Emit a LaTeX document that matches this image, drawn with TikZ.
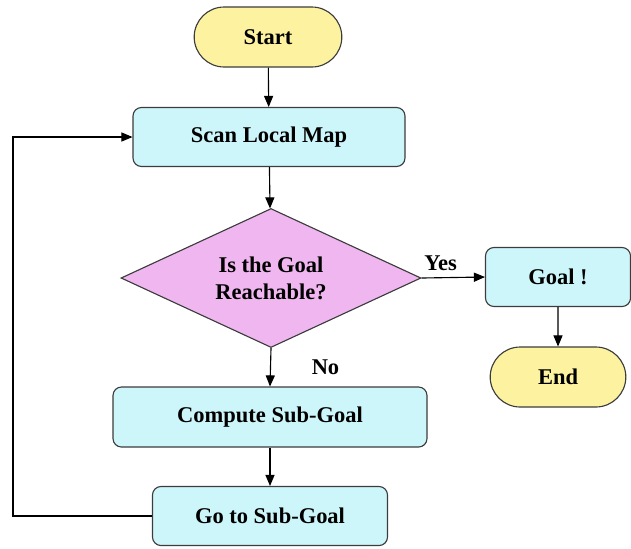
\documentclass[tikz,border=0pt]{standalone}
\usepackage{fontspec}
\setmainfont{Liberation Serif}
\usepackage{xcolor}
\usetikzlibrary{shapes, arrows, positioning}

\definecolor{termfill}{RGB}{252,242,160}
\definecolor{procfill}{RGB}{205,246,250}
\definecolor{decfill}{RGB}{240,182,240}
\definecolor{edge}{RGB}{60,60,60}

\begin{document}
\begin{tikzpicture}[>=triangle 45, thick, font=\fontsize{16}{19}\selectfont\bfseries]
    \useasboundingbox (0,0) rectangle (15.775,-13.7);
    \tikzset{
        terminal/.style={rounded rectangle, draw=edge, line width=0.8pt, fill=termfill, minimum height=1.5cm},
        process/.style={rectangle, rounded corners=6pt, draw=edge, line width=0.8pt, fill=procfill, minimum height=1.475cm},
        decision/.style={diamond, aspect=2.2, draw=edge, line width=0.8pt, fill=decfill, align=center, minimum width=7.5cm, minimum height=3.475cm, inner sep=1pt},
        flow/.style={->, line width=0.8pt, black}
    }

    % Nodes
    \node (start) [terminal, minimum width=3.925cm] at (6.7,-0.925) {Start};
    \node (scan) [process, minimum width=6.8cm] at (6.725,-3.425) {Scan Local Map};
    \node (reach) [decision] at (6.775,-6.95) {Is the Goal\\Reachable?};
    \node (goal) [process, minimum width=3.625cm] at (13.95,-6.925) {Goal !};
    \node (end) [terminal, minimum width=3.625cm] at (13.95,-9.425) {End};
    \node (compute) [process, minimum width=7.85cm, minimum height=1.5cm] at (6.75,-10.425) {Compute Sub-Goal};
    \node (goto) [process, minimum width=5.875cm] at (6.75,-12.9) {Go to Sub-Goal};
    \coordinate (loop) at (0.325,-12.9);

    % Connectors
    \draw[flow] (start) -- (scan);
    \draw[flow] (scan) -- (reach);
    \draw[flow] (reach.east) -- (goal.west) node[pos=0.3, above=1pt] {Yes};
    \draw[flow] (goal) -- (end);
    \draw[flow] (reach.south) -- (compute.north) node[midway, right=0.9cm] {No};
    \draw[flow] (compute) -- (goto);
    \draw[flow] (goto.west) -- (loop) |- (scan.west);

\end{tikzpicture}
\end{document}
